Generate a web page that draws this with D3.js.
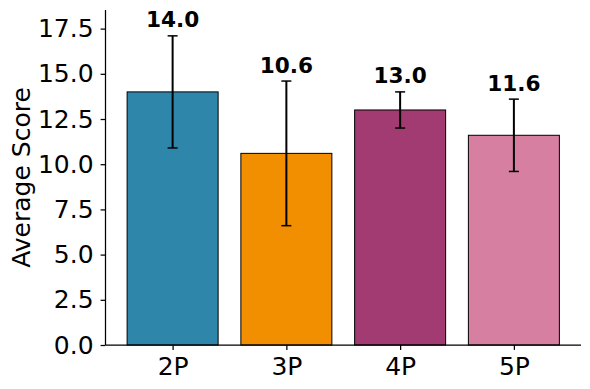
<!DOCTYPE html>
<html>
<head>
<meta charset="utf-8">
<script src="https://cdn.jsdelivr.net/npm/d3@7"></script>
<style>
  body { margin: 0; background: #fff; }
  svg { display: block; font-family: "DejaVu Sans", sans-serif; }
</style>
</head>
<body>
<div id="chart"></div>
<script>
  'use strict';

  var categories = ["2P", "3P", "4P", "5P"];
  var means = [14.0, 10.6, 13.0, 11.6];
  var errors = [3.1, 4.0, 1.0, 2.0];
  var colors = ["#2E86AB", "#F18F01", "#A23B72", "#D77FA1"];
  var yTicks = [0, 2.5, 5, 7.5, 10, 12.5, 15, 17.5];

  var w = 590, h = 389;
  var margin = {left: 105.5, right: 9, top: 10, bottom: 44};

  var svg = d3.select("#chart").append("svg")
      .attr("width", w)
      .attr("height", h);

  // numeric x like matplotlib: bars at 0..3, width 0.8
  var x = d3.scaleLinear()
      .domain([-0.59, 3.59])
      .range([margin.left, w - margin.right]);
  var y = d3.scaleLinear()
      .domain([0, 18.53])
      .range([h - margin.bottom, margin.top]);

  var data = categories.map(function(c, i) {
    return {name: c, mean: means[i], err: errors[i], color: colors[i], i: i};
  });

  svg.selectAll("rect.bar")
    .data(data)
    .enter().append("rect")
      .attr("class", "bar")
      .attr("x", function(d) { return x(d.i - 0.4); })
      .attr("width", function(d) { return x(d.i + 0.4) - x(d.i - 0.4); })
      .attr("y", function(d) { return y(d.mean); })
      .attr("height", function(d) { return y(0) - y(d.mean); })
      .attr("fill", function(d) { return d.color; })
      .attr("stroke", "#000")
      .attr("stroke-width", 1);

  // error bars
  var eb = svg.selectAll("g.err")
    .data(data)
    .enter().append("g")
      .attr("class", "err")
      .attr("stroke", "#000")
      .attr("stroke-width", 2);
  eb.append("line")
      .attr("x1", function(d) { return x(d.i); })
      .attr("x2", function(d) { return x(d.i); })
      .attr("y1", function(d) { return y(d.mean - d.err); })
      .attr("y2", function(d) { return y(d.mean + d.err); });
  eb.append("line")
      .attr("x1", function(d) { return x(d.i) - 5; })
      .attr("x2", function(d) { return x(d.i) + 5; })
      .attr("y1", function(d) { return y(d.mean + d.err); })
      .attr("y2", function(d) { return y(d.mean + d.err); })
      .attr("stroke-width", 1.5);
  eb.append("line")
      .attr("x1", function(d) { return x(d.i) - 5; })
      .attr("x2", function(d) { return x(d.i) + 5; })
      .attr("y1", function(d) { return y(d.mean - d.err); })
      .attr("y2", function(d) { return y(d.mean - d.err); })
      .attr("stroke-width", 1.5);

  // value labels
  svg.selectAll("text.val")
    .data(data)
    .enter().append("text")
      .attr("class", "val")
      .attr("x", function(d) { return x(d.i); })
      .attr("y", function(d) { return y(d.mean + d.err) - 8.5; })
      .attr("text-anchor", "middle")
      .style("font-size", "21.6px")
      .style("font-weight", "bold")
      .text(function(d) { return d.mean.toFixed(1); });

  // axes
  var yAxis = d3.axisLeft(y)
      .tickValues(yTicks)
      .tickFormat(d3.format(".1f"))
      .tickSize(4.9)
      .tickPadding(7);
  var gy = svg.append("g")
      .attr("transform", "translate(" + margin.left + ",0)")
      .call(yAxis);

  var xAxis = d3.axisBottom(x)
      .tickValues([0, 1, 2, 3])
      .tickFormat(function(d) { return categories[d]; })
      .tickSize(4.9)
      .tickPadding(7);
  var gx = svg.append("g")
      .attr("transform", "translate(0," + (h - margin.bottom) + ")")
      .call(xAxis);

  [gx, gy].forEach(function(g) {
    g.selectAll(".tick line").attr("stroke-width", 1.25);
    g.selectAll(".tick text")
      .style("font-size", "25px")
      .style("font-family", "DejaVu Sans, sans-serif")
      .attr("fill", "#000");
  });
  gy.select(".domain")
      .attr("stroke-width", 1.25)
      .attr("d", "M0," + y.range()[0] + "V" + y.range()[1]);
  gx.select(".domain")
      .attr("stroke-width", 1.25)
      .attr("d", "M" + x.range()[0] + ",0H" + x.range()[1]);

  svg.append("text")
      .attr("transform", "translate(30," + ((margin.top + h - margin.bottom) / 2) + ") rotate(-90)")
      .attr("text-anchor", "middle")
      .style("font-size", "25px")
      .text("Average Score");
</script>
</body>
</html>
